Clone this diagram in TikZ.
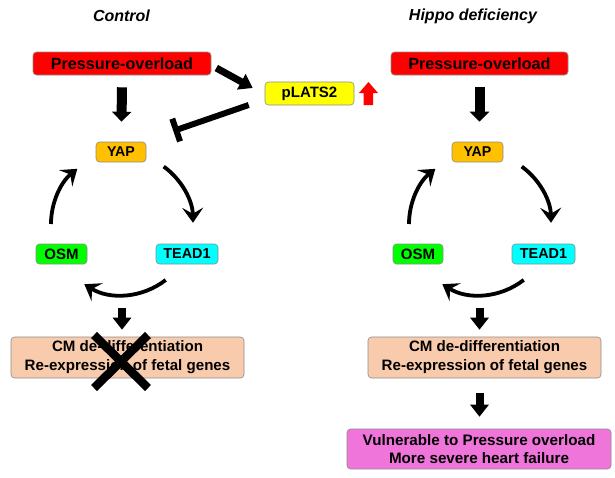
\documentclass[tikz,border=0pt]{standalone}
\usepackage{fontspec}
\setmainfont{Liberation Sans}
\usetikzlibrary{arrows.meta,calc}
\definecolor{cred}{RGB}{255,0,0}
\definecolor{cyellow}{RGB}{255,255,0}
\definecolor{corange}{RGB}{255,192,0}
\definecolor{cgreen}{RGB}{0,255,0}
\definecolor{ccyan}{RGB}{0,255,255}
\definecolor{cpeach}{RGB}{248,203,173}
\definecolor{cpink}{RGB}{239,117,219}
\begin{document}
\begin{tikzpicture}[x=1pt,y=-1pt,
  nbox/.style={draw=black!45, line width=0.6pt, rounded corners=3.5pt, inner sep=0pt, align=center,
    font=\fontsize{15}{18}\selectfont\bfseries},
  ttl/.style={font=\fontsize{16}{19}\selectfont\bfseries\itshape},
  bigarrow/.style={line width=10pt, -{Triangle[width=19pt,length=10pt]}},
  smallarrow/.style={line width=8pt, -{Triangle[width=18pt,length=12pt]}},
  cyc/.style={line width=3.8pt, -{Stealth[length=15pt,width=21pt,inset=6pt]}},
]
\useasboundingbox (0,0) rectangle (615,477);

% titles
\node[ttl] (t1) at (121.5,16) {Control};
\node[ttl] (t2) at (473,16) {Hippo deficiency};

% left column
\node[nbox, fill=cred, minimum width=178pt, minimum height=23pt, font=\fontsize{16.2}{19}\selectfont\bfseries] (po1) at (122,63.5) {Pressure-overload};
\node[nbox, fill=cyellow, minimum width=89pt, minimum height=23pt] (plats) at (309.5,93.5) {pLATS2};
\node[nbox, fill=corange, minimum width=50pt, minimum height=20pt, font=\fontsize{14.2}{17}\selectfont\bfseries] (yap1) at (121,152) {YAP};
\node[nbox, fill=cgreen, minimum width=51pt, minimum height=20pt] (osm1) at (61.5,254) {OSM};
\node[nbox, fill=ccyan, minimum width=62pt, minimum height=20pt, font=\fontsize{14.4}{17}\selectfont\bfseries] (tead1) at (187,254) {TEAD1};
\node[nbox, fill=cpeach, minimum width=233pt, minimum height=41pt, font=\fontsize{15.1}{19}\selectfont\bfseries] (cm1) at (127.5,357.5) {CM de-differentiation\\Re-expression of fetal genes};

% right column
\node[nbox, fill=cred, minimum width=177pt, minimum height=23pt, font=\fontsize{16.2}{19}\selectfont\bfseries] (po2) at (479.5,63.5) {Pressure-overload};
\node[nbox, fill=corange, minimum width=51pt, minimum height=20pt, font=\fontsize{14.2}{17}\selectfont\bfseries] (yap2) at (477.5,152) {YAP};
\node[nbox, fill=cgreen, minimum width=50pt, minimum height=20pt] (osm2) at (418,254) {OSM};
\node[nbox, fill=ccyan, minimum width=63pt, minimum height=20pt, font=\fontsize{14.4}{17}\selectfont\bfseries] (tead2) at (543.5,254) {TEAD1};
\node[nbox, fill=cpeach, minimum width=233pt, minimum height=41pt, font=\fontsize{15.1}{19}\selectfont\bfseries] (cm2) at (484.5,357.5) {CM de-differentiation\\Re-expression of fetal genes};
\node[nbox, fill=cpink, minimum width=264pt, minimum height=40pt, font=\fontsize{15.2}{18}\selectfont\bfseries] (vul) at (479,449) {Vulnerable to Pressure overload\\More severe heart failure};

% red up arrow next to pLATS2
\fill[cred] (359,93) -- (368.5,82) -- (378,93) -- (373,93) -- (373,105) -- (363.5,105) -- (363.5,93) -- cycle;

% straight block arrows
\draw[bigarrow] ([yshift=-12pt]po1.south) -- ([xshift=0.5pt,yshift=20pt]yap1.north);
\draw[bigarrow] ([yshift=-12pt]po2.south) -- ([xshift=2pt,yshift=20pt]yap2.north);
\draw[smallarrow] ([xshift=-5.5pt,yshift=29pt]cm1.north) -- ([xshift=-5.5pt,yshift=7pt]cm1.north);
\draw[smallarrow] ([xshift=-5pt,yshift=29pt]cm2.north) -- ([xshift=-5pt,yshift=7pt]cm2.north);
\draw[smallarrow] ([xshift=-5pt,yshift=-15pt]cm2.south) -- ([xshift=0.5pt,yshift=12pt]vul.north);

% pressure -> pLATS2
\draw[line width=7pt, -{Triangle[width=17pt,length=13pt]}] ([shift={(5pt,-4.5pt)}]po1.east) -- ([shift={(-12pt,5.5pt)}]plats.west);
% pLATS2 inhibits YAP
\draw[line width=6pt, -{Bar[width=24pt]}] ([shift={(-16pt,-11.5pt)}]plats.west) -- ([shift={(27pt,21pt)}]yap1.east);

% cycles
\coordinate (c1) at (122,224);
\coordinate (c2) at (480,224);
\foreach \c in {c1,c2}{
  \draw[cyc] ([shift={(54:71pt)}]\c) arc[start angle=54, end angle=1, radius=71pt];
  \draw[cyc] ([shift={(180:71pt)}]\c) arc[start angle=180, end angle=129, radius=71pt];
  \draw[cyc] ([shift={(-52:71pt)}]\c) arc[start angle=-52, end angle=-122, radius=71pt];
}

% X over left CM box
\coordinate (xc) at ([shift={(-6.5pt,-4pt)}]cm1.center);
\draw[line width=8.5pt] ([shift={(-27pt,26.5pt)}]xc) -- ([shift={(27pt,-26.5pt)}]xc);
\draw[line width=8.5pt] ([shift={(27pt,26.5pt)}]xc) -- ([shift={(-27pt,-26.5pt)}]xc);
\end{tikzpicture}
\end{document}
